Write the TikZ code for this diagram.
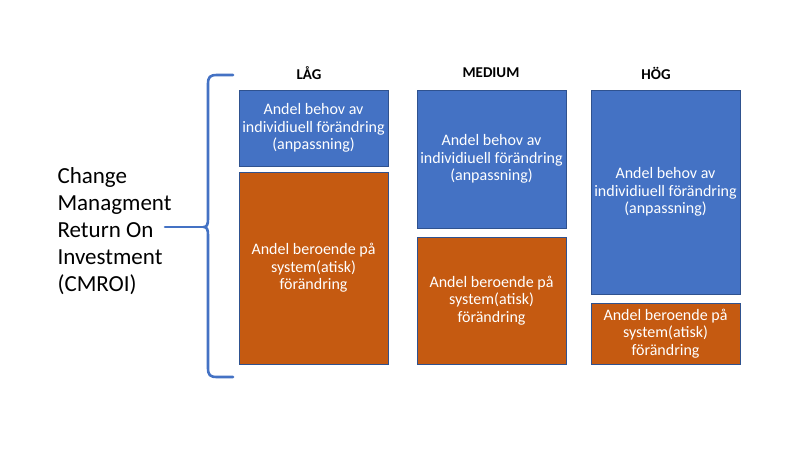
\documentclass[tikz,border=0pt]{standalone}
\usepackage{fontspec}
\setmainfont{Carlito}
\usetikzlibrary{positioning}
\definecolor{boxblue}{HTML}{4472C4}
\definecolor{boxorange}{HTML}{C55A11}
\definecolor{boxedge}{HTML}{2F528F}
\tikzset{
  share/.style={draw=boxedge, line width=0.8pt, text=white, minimum width=149pt,
    align=center, inner sep=0pt, font=\fontsize{16}{17.5}\selectfont},
  need/.style={share, fill=boxblue},
  dep/.style={share, fill=boxorange},
  level/.style={font=\bfseries\fontsize{15}{17}\selectfont},
  bracket/.style={draw=boxblue, line width=2.6pt, line cap=round}
}
\begin{document}
\begin{tikzpicture}[x=1pt, y=-1pt]
	\useasboundingbox (0,0) rectangle (800,450);
	\node[need, minimum height=76pt] (lowneed) at (313.5, 128) {Andel behov av\\individiuell förändring\\(anpassning)};
	\node[dep, minimum height=192pt] (lowdep) at (313.5, 268) {Andel beroende på\\system(atisk)\\förändring};
	\node[need, minimum height=138pt] (midneed) at (491.5, 159) {Andel behov av\\individiuell förändring\\(anpassning)};
	\node[dep, minimum height=127pt] (middep) at (491.5, 300.5) {Andel beroende på\\system(atisk)\\förändring};
	\node[need, minimum height=204pt] (highneed) at (665.5, 192) {Andel behov av\\individiuell förändring\\(anpassning)};
	\node[dep, minimum height=61pt] (highdep) at (665.5, 333.5) {Andel beroende på\\system(atisk)\\förändring};
	\node[level] (low) at (309, 73) {LÅG};
	\node[level] (mid) at (491, 73) {MEDIUM};
	\node[level] (high) at (656, 73) {HÖG};
	\node[align=left, anchor=west, font=\fontsize{23}{27}\selectfont] (cmroi) at (54, 231)
		{Change\\Managment\\Return On\\Investment\\(CMROI)};
	% brace
	\coordinate (tip) at (204, 227);
	\draw[bracket] (233,75) -- (217,75) .. controls (210,75) and (208,77) .. (208,84)
		-- (208,219) .. controls (208,224) and (207,227) .. (tip)
		.. controls (207,227) and (208,230) .. (208,235)
		-- (208,368) .. controls (208,375) and (210,377) .. (217,377) -- (233,377);
	\draw[bracket] (165,227) -- (tip);
\end{tikzpicture}
\end{document}
